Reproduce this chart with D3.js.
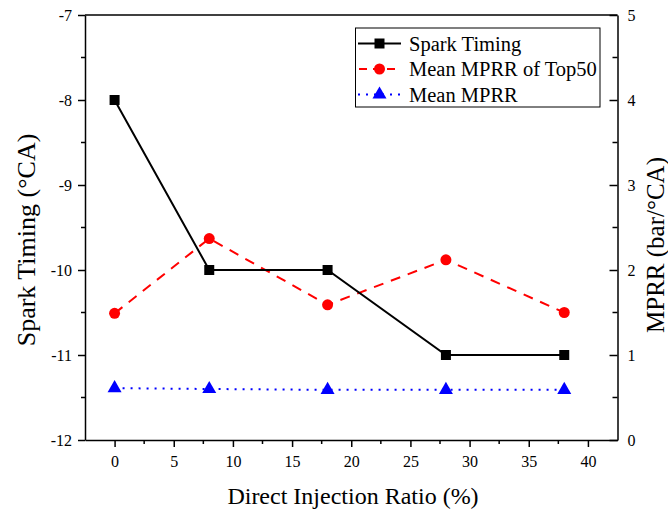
<!DOCTYPE html>
<html><head><meta charset="utf-8">
<script src="https://cdn.jsdelivr.net/npm/d3@7"></script>
<style>body{margin:0;background:#fff}svg{display:block}</style>
</head><body>
<svg id="c" width="668" height="512"></svg>
<script>
const ratio = [0, 8, 18, 28, 38];
const sparkTiming = [-8, -10, -10, -11, -11];
const mprrTop50 = [1.49, 2.37, 1.59, 2.12, 1.50];
const mprrMean = [0.61, 0.60, 0.59, 0.59, 0.59];
const xTicks = [0, 5, 10, 15, 20, 25, 30, 35, 40];
const yLeftTicks = [-12, -11, -10, -9, -8, -7];
const yRightTicks = [0, 1, 2, 3, 4, 5];
const seriesNames = ["Spark Timing", "Mean MPRR of Top50", "Mean MPRR"];

const svg = d3.select("#c");
const L = 85, R = 617.5, T = 15, B = 440;
const font = "'Liberation Serif', 'Times New Roman', serif";
const x = d3.scaleLinear().domain([-2.5, 42.5]).range([L, R]);
const yL = d3.scaleLinear().domain([-12, -7]).range([B, T]);
const yR = d3.scaleLinear().domain([0, 5]).range([B, T]);
const fmt = d => String(d);

// frame top
svg.append("line").attr("x1", L).attr("x2", R).attr("y1", T).attr("y2", T)
  .attr("stroke", "#000").attr("stroke-width", 1.5);

function styleAxis(g) {
  g.selectAll("path").attr("stroke", "#000").attr("stroke-width", 1.5);
  g.selectAll("line").attr("stroke", "#000").attr("stroke-width", 1.5);
  g.selectAll("text").attr("font-family", font).attr("font-size", 16).attr("fill", "#000");
}
const xMinor = d3.range(-2.5, 42.6, 2.5).filter(v => !xTicks.includes(v) && v > -2.5 && v < 42.5);
const yLMinor = d3.range(-11.5, -7, 1);
const yRMinor = d3.range(0.5, 5, 1);

const gx = svg.append("g").attr("transform", `translate(0,${B})`)
  .call(d3.axisBottom(x).tickValues(xTicks).tickFormat(fmt).tickSize(7).tickPadding(9).tickSizeOuter(0));
styleAxis(gx);
gx.selectAll(".minor").data(xMinor).enter().append("line").attr("class", "minor")
  .attr("x1", d => x(d)).attr("x2", d => x(d)).attr("y1", 0).attr("y2", 4)
  .attr("stroke", "#000").attr("stroke-width", 1.5);

const gl = svg.append("g").attr("transform", `translate(${L},0)`)
  .call(d3.axisLeft(yL).tickValues(yLeftTicks).tickFormat(fmt).tickSize(7).tickPadding(6).tickSizeOuter(0));
styleAxis(gl);
gl.selectAll(".minor").data(yLMinor).enter().append("line").attr("class", "minor")
  .attr("x1", 0).attr("x2", -4).attr("y1", d => yL(d)).attr("y2", d => yL(d))
  .attr("stroke", "#000").attr("stroke-width", 1.5);

const gr = svg.append("g").attr("transform", `translate(${R},0)`)
  .call(d3.axisRight(yR).tickValues(yRightTicks).tickFormat(fmt).tickSize(-8).tickPadding(10).tickSizeOuter(0));
styleAxis(gr);
gr.selectAll(".minor").data(yRMinor).enter().append("line").attr("class", "minor")
  .attr("x1", 0).attr("x2", -5).attr("y1", d => yR(d)).attr("y2", d => yR(d))
  .attr("stroke", "#000").attr("stroke-width", 1.5);

// axis titles
svg.append("text").attr("x", 353).attr("y", 504).attr("text-anchor", "middle")
  .attr("font-family", font).attr("font-size", 24).text("Direct Injection Ratio (%)");
svg.append("text").attr("transform", `translate(35,240) rotate(-90)`).attr("text-anchor", "middle")
  .attr("font-family", font).attr("font-size", 26).text("Spark Timing (°CA)");
svg.append("text").attr("transform", `translate(664,245) rotate(-90)`).attr("text-anchor", "middle")
  .attr("font-family", font).attr("font-size", 25).text("MPRR (bar/°CA)");

const pts = (ys) => ratio.map((r, i) => [r, ys[i]]);
svg.append("path").datum(pts(mprrMean))
  .attr("d", d3.line().x(d => x(d[0])).y(d => yR(d[1])))
  .attr("fill", "none").attr("stroke", "#0000ff").attr("stroke-width", 2).attr("stroke-dasharray", "2,6");
svg.append("path").datum(pts(mprrTop50))
  .attr("d", d3.line().x(d => x(d[0])).y(d => yR(d[1])))
  .attr("fill", "none").attr("stroke", "#ff0000").attr("stroke-width", 2).attr("stroke-dasharray", "10,8");
svg.append("path").datum(pts(sparkTiming))
  .attr("d", d3.line().x(d => x(d[0])).y(d => yL(d[1])))
  .attr("fill", "none").attr("stroke", "#000").attr("stroke-width", 2);

const sq = d3.symbol().type(d3.symbolSquare).size(100);
const ci = d3.symbol().type(d3.symbolCircle).size(95);
const tr = d3.symbol().type(d3.symbolTriangle).size(85);
svg.append("g").selectAll("path").data(pts(mprrMean)).enter().append("path")
  .attr("d", tr).attr("transform", d => `translate(${x(d[0])},${yR(d[1])})`).attr("fill", "#0000ff");
svg.append("g").selectAll("path").data(pts(mprrTop50)).enter().append("path")
  .attr("d", ci).attr("transform", d => `translate(${x(d[0])},${yR(d[1])})`).attr("fill", "#ff0000");
svg.append("g").selectAll("path").data(pts(sparkTiming)).enter().append("path")
  .attr("d", sq).attr("transform", d => `translate(${x(d[0])},${yL(d[1])})`).attr("fill", "#000");

// legend
const lg = svg.append("g");
lg.append("rect").attr("x", 355.5).attr("y", 28).attr("width", 244.5).attr("height", 79)
  .attr("fill", "#fff").attr("stroke", "#000").attr("stroke-width", 1);
const legStyles = [
  {stroke: "#000", dash: null, sym: sq, color: "#000"},
  {stroke: "#ff0000", dash: "8,6", sym: ci, color: "#ff0000"},
  {stroke: "#0000ff", dash: "2,6", sym: tr, color: "#0000ff"}
];
seriesNames.forEach((name, i) => {
  const yy = 43.5 + i * 25.5;
  const s = legStyles[i];
  const ln = lg.append("line").attr("x1", 358).attr("x2", 401).attr("y1", yy).attr("y2", yy)
    .attr("stroke", s.stroke).attr("stroke-width", 2);
  if (s.dash) ln.attr("stroke-dasharray", s.dash).attr("stroke-dashoffset", i === 1 ? -1 : 0);
  lg.append("path").attr("d", s.sym).attr("transform", `translate(379.5,${yy})`).attr("fill", s.color);
  lg.append("text").attr("x", 409).attr("y", yy + 7).attr("font-family", font).attr("font-size", 20.5)
    .text(name);
});
</script>
</body></html>
